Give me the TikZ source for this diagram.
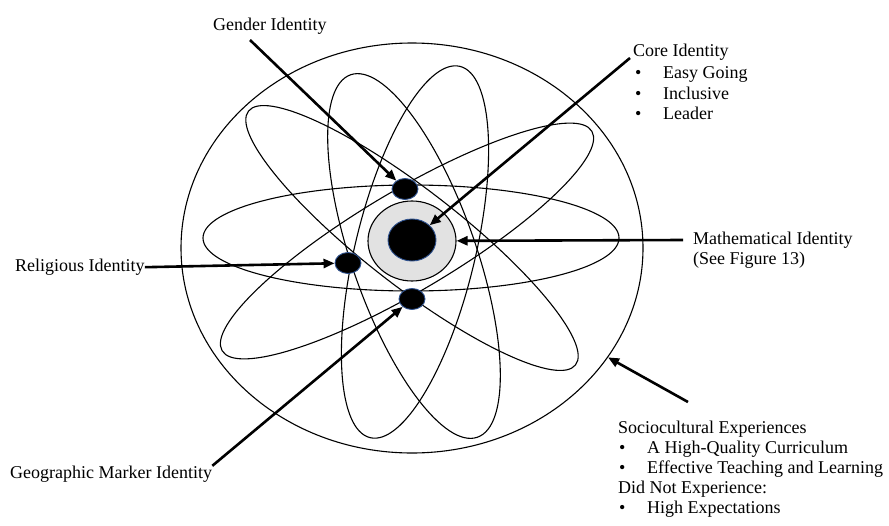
\documentclass[tikz,border=0pt]{standalone}
\usepackage{fontspec}
\setmainfont{Liberation Serif}
\usetikzlibrary{arrows.meta,shapes.geometric}
\definecolor{rim}{HTML}{2F528F}
\definecolor{ringgray}{HTML}{E2E2E2}

\begin{document}
\begin{tikzpicture}[
    x=1pt, y=-1pt,
    world/.style={ellipse, draw, line width=1.1pt, inner sep=0pt, minimum width=462pt, minimum height=410pt},
    orbit/.style={draw, line width=1.1pt},
    ring/.style={ellipse, draw, fill=ringgray, line width=1.1pt, inner sep=0pt, minimum width=88pt, minimum height=80pt},
    core/.style={ellipse, draw=rim, fill=black, line width=0.9pt, inner sep=0pt, minimum width=48pt, minimum height=42pt},
    identity/.style={ellipse, draw=rim, fill=black, line width=0.9pt, inner sep=0pt, minimum width=26pt, minimum height=21pt},
    pointer/.style={-{Triangle[length=11pt, width=9pt]}, line width=2.6pt},
    label text/.style={font=\fontsize{18}{21}\selectfont, anchor=base west, inner sep=0pt}
]
\useasboundingbox (0,0) rectangle (889,525);

% Sociocultural boundary
\node[world] (world) at (412,248) {};

% Orbits
\draw[orbit] (411,238) ellipse [x radius=208, y radius=53];
\draw[orbit, rotate around={-37.8:(412,238)}] (412,238) ellipse [x radius=207, y radius=48];
\draw[orbit, rotate around={30.7:(407,241)}] (407,241) ellipse [x radius=215, y radius=50];
\draw[orbit, rotate around={-70.7:(414,256)}] (414,256) ellipse [x radius=192, y radius=62];
\draw[orbit, rotate around={76.4:(415,252)}] (415,252) ellipse [x radius=191, y radius=60];

% Nucleus
\node[ring] (math ring) at (412,241) {};
\node[core] (core) at (412,240) {};

% Identities on the orbits
\node[identity] (gender) at (405,189) {};
\node[identity] (religious) at (348,263) {};
\node[identity] (geographic) at (412,299) {};

% Labels
\node[label text] (gender label) at (213,30.5) {Gender Identity};

\node[label text] (core label) at (633,56.5) {Core Identity};
\node[label text] (core bullet1) at (635,78.5) {\textbullet};
\node[label text] (core item1) at (663,78.5) {Easy Going};
\node[label text] (core bullet2) at (635,99) {\textbullet};
\node[label text] (core item2) at (663,99) {Inclusive};
\node[label text] (core bullet3) at (635,119.5) {\textbullet};
\node[label text] (core item3) at (663,119.5) {Leader};

\node[label text] (math label) at (693,244.5) {Mathematical Identity};
\node[label text] (math note) at (693,264.5) {(See Figure 13)};

\node[label text] (religious label) at (15,271.5) {Religious Identity};

\node[label text] (geographic label) at (10,478.5) {Geographic Marker Identity};

\node[label text] (socio label) at (618,433) {Sociocultural Experiences};
\node[label text] (socio bullet1) at (619,453) {\textbullet};
\node[label text] (socio item1) at (647,453) {A High-Quality Curriculum};
\node[label text] (socio bullet2) at (619,473) {\textbullet};
\node[label text] (socio item2) at (647,473) {Effective Teaching and Learning};
\node[label text] (socio missing) at (618,493) {Did Not Experience:};
\node[label text] (socio bullet3) at (619,513.5) {\textbullet};
\node[label text] (socio item3) at (647,513.5) {High Expectations};

% Pointers
\coordinate (gender tail) at (250,40);
\coordinate (core tail) at (630,58);
\coordinate (math tail) at (683,240);
\coordinate (socio tail) at (688,402);

\draw[pointer] (gender tail) -- (gender);
\draw[pointer] (core tail) -- (core);
\draw[pointer] (math tail) -- (math ring);
\draw[pointer] (religious label.east) -- (religious);
\draw[pointer] (geographic label.north east) -- (geographic);
\draw[pointer] (socio tail) -- (world);

\end{tikzpicture}
\end{document}
